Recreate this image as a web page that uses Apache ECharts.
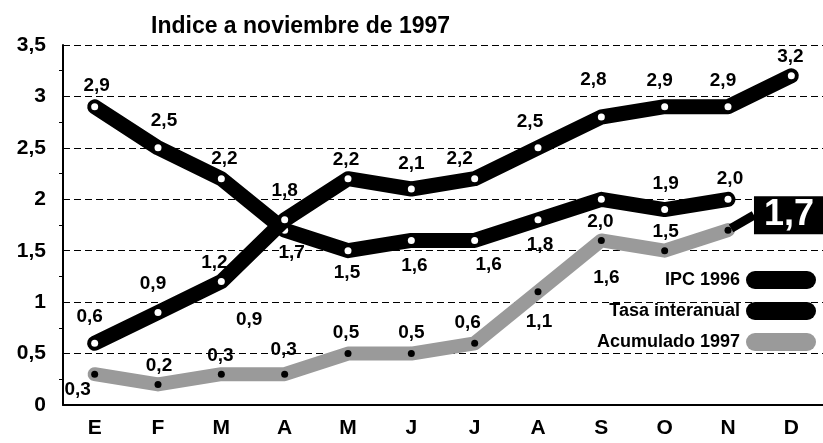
<!DOCTYPE html>
<html>
<head>
<meta charset="utf-8">
<script src="https://cdn.jsdelivr.net/npm/echarts@6/dist/echarts.min.js"></script>
<style>html,body{margin:0;padding:0;background:#fff;}#c{width:823px;height:443px;}</style>
</head>
<body>
<div id="c"></div>
<script>
const months = ['E','F','M','A','M','J','J','A','S','O','N','D'];
const ipc1996 = [0.6, 0.9, 1.2, 1.8, 2.2, 2.1, 2.2, 2.5, 2.8, 2.9, 2.9, 3.2];
const tasaInteranual = [2.9, 2.5, 2.2, 1.7, 1.5, 1.6, 1.6, 1.8, 2.0, 1.9, 2.0];
const acumulado1997 = [0.3, 0.2, 0.3, 0.3, 0.5, 0.5, 0.6, 1.1, 1.6, 1.5, 1.7];
const yTicks = [0, 0.5, 1, 1.5, 2, 2.5, 3, 3.5];

// label layout (offsets of each value label from its point)
const ipcOff = [[-5,-27],[-5,-29],[-7,-19],[0,-29],[-2,-19],[0,-25],[-15,-20],[-8,-26],[-8,-37],[-5,-26],[-5,-26],[-1,-19]];
const tasaOff = [[2,-21],[6,-27],[3,-20],[7,23],[-1,22],[3,25],[14,24],[2,25],[-1,22],[1,-26],[2,-21]];
const acuOff = [[-17,16],[1,-19],[-1,-18],[-1,-24],[-2,-21],[0,-21],[-7,-21],[1,30],[5,37],[1,-19],[63,-15]];

const FONT = '"Liberation Sans", Arial, Helvetica, sans-serif';
const fmt = v => v.toFixed(1).replace('.', ',');

function build(values, offs, lastBig) {
  return values.map((v, i) => {
    const item = { value: v };
    if (!lastBig) item.label = { offset: offs[i] };
    if (lastBig && i === values.length - 1) {
      item.label = {
        backgroundColor: '#000', color: '#fff', fontSize: 36,
        padding: [2, 14, 0, 10], lineHeight: 36
      };
      item.labelLine = { show: true, lineStyle: { color: '#000', width: 9 } };
    }
    return item;
  });
}

const baseLabel = {
  show: true, position: 'inside', align: 'center', verticalAlign: 'middle',
  color: '#000', fontFamily: FONT, fontWeight: 'bold', fontSize: 19,
  formatter: p => fmt(p.value)
};

const chart = echarts.init(document.getElementById('c'), null, {renderer: 'canvas'});
const pill = 'path://M9,0 H61 A9,9 0 0 1 61,18 H9 A9,9 0 0 1 9,0 Z';

chart.setOption({
  backgroundColor: '#fff',
  animation: false,
  title: {
    text: 'Indice a noviembre de 1997', left: 146, top: 10,
    textStyle: { fontFamily: FONT, fontWeight: 'bold', fontSize: 23, color: '#000' }
  },
  grid: { left: 63, top: 45, width: 766, bottom: 38, containLabel: false },
  legend: {
    orient: 'vertical', right: 2, top: 266, align: 'right',
    itemWidth: 72, itemHeight: 18, itemGap: 13,
    textStyle: { fontFamily: FONT, fontWeight: 'bold', fontSize: 18, color: '#000' },
    data: [
      { name: 'IPC 1996', icon: pill, itemStyle: { color: '#000' } },
      { name: 'Tasa interanual', icon: pill, itemStyle: { color: '#000' } },
      { name: 'Acumulado 1997', icon: pill, itemStyle: { color: '#9a9a9a' } }
    ]
  },
  xAxis: {
    type: 'category', data: months, boundaryGap: true,
    axisLine: { lineStyle: { color: '#000', width: 2 } },
    axisTick: { alignWithLabel: true, length: 6, lineStyle: { color: '#000', width: 2 } },
    axisLabel: { fontFamily: FONT, fontWeight: 'bold', fontSize: 21, color: '#000', margin: 13 }
  },
  yAxis: {
    type: 'value', min: 0, max: 3.5, interval: 0.5,
    axisLine: { show: true, lineStyle: { color: '#000', width: 2 } },
    axisTick: { show: false },
    minorTick: { show: true, splitNumber: 2, length: 4, lineStyle: { color: '#000' } },
    splitLine: { show: true, lineStyle: { color: '#000', type: [7, 4], width: 1 } },
    axisLabel: {
      fontFamily: FONT, fontWeight: 'bold', fontSize: 21, color: '#000', margin: 17,
      formatter: v => yTicks.includes(v) ? String(v).replace('.', ',') : ''
    }
  },
  graphic: [{
    type: 'text', left: 236, top: 310, z: 100,
    style: { text: '0,9', fontFamily: FONT, fontWeight: 'bold', fontSize: 19, fill: '#000' }
  }],
  series: [
    {
      name: 'Acumulado 1997', type: 'line', data: build(acumulado1997, acuOff, true),
      color: '#9a9a9a', z: 2,
      lineStyle: { color: '#9a9a9a', width: 14, cap: 'round', join: 'round' },
      symbol: 'circle', symbolSize: 7, itemStyle: { color: '#000' },
      label: baseLabel,
      labelLine: { show: false },
      labelLayout: p => ({ dx: acuOff[p.dataIndex][0], dy: acuOff[p.dataIndex][1] })
    },
    {
      name: 'Tasa interanual', type: 'line', data: build(tasaInteranual, tasaOff, false),
      color: '#000', z: 3,
      lineStyle: { color: '#000', width: 15, cap: 'round', join: 'round' },
      symbol: 'circle', symbolSize: 7, itemStyle: { color: '#fff' },
      label: baseLabel
    },
    {
      name: 'IPC 1996', type: 'line', data: build(ipc1996, ipcOff, false),
      color: '#000', z: 4,
      lineStyle: { color: '#000', width: 15, cap: 'round', join: 'round' },
      symbol: 'circle', symbolSize: 7, itemStyle: { color: '#fff' },
      label: baseLabel
    }
  ]
});
</script>
</body>
</html>
